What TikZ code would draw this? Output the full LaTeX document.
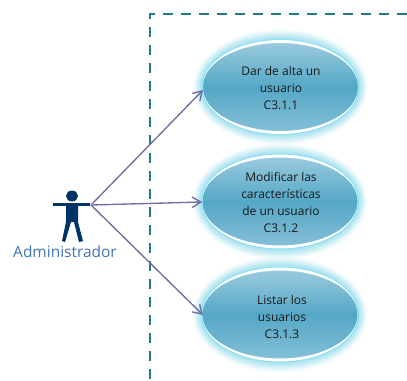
\documentclass[tikz,border=0pt]{standalone}
\usepackage{fontspec}
\setmainfont{Open Sans}
\usetikzlibrary{shapes.geometric,arrows.meta}
\definecolor{dashc}{RGB}{31,122,140}
\definecolor{linkc}{RGB}{112,108,160}
\definecolor{actorc}{RGB}{0,51,102}
\definecolor{actortxt}{RGB}{66,116,182}
\definecolor{glowc}{RGB}{135,214,232}
\definecolor{ringc}{RGB}{120,225,245}
\definecolor{ucTop}{RGB}{158,205,224}
\definecolor{ucMid}{RGB}{84,167,198}
\definecolor{ucBot}{RGB}{135,192,216}
\tikzset{
  x=0.75pt,y=-0.75pt,
  usecase/.style={ellipse,minimum width=117pt,minimum height=70.5pt,inner sep=0pt,
    top color=ucTop,bottom color=ucBot,middle color=ucMid,draw=ringc,line width=1pt},
  uctext/.style={font=\fontsize{9pt}{12.75pt}\selectfont,text=black!90,align=center,inner sep=0pt},
  link/.style={draw=linkc,line width=1pt},
  arrowlink/.style={link,-{Straight Barb[length=6.5pt,width=8pt,line width=1pt]}},
  bound/.style={draw=dashc,line width=2.2pt,dash pattern=on 7.5pt off 6pt},
}
\newcommand{\glowat}[2]{%
  \foreach \r/\o in {9/0.07,8/0.08,7/0.10,6/0.11,5/0.13,4/0.15,3/0.18,2/0.20,1/0.24}{
    \fill[glowc,opacity=\o] (#1,#2) ellipse [x radius={(78+\r)*0.75pt},y radius={(47+\r*1.2)*0.75pt}];
  }%
}
\newcommand{\crescent}[2]{%
  \fill[white,even odd rule] (#1,#2) ellipse [x radius=58.5pt,y radius=35.25pt]
     (#1,#2) ellipse [x radius=58.5pt,y radius=33pt];%
}
\begin{document}
\begin{tikzpicture}
\useasboundingbox (0,0) rectangle (407,380);
% boundary
\coordinate (bTR) at (407,14);
\coordinate (bTL) at (150,14);
\coordinate (bBL) at (150,380);
\draw[bound] (bTR) -- (bTL) -- (bBL);
% glows
\glowat{280.5}{87}\glowat{280}{201.5}\glowat{280}{314.5}
% use cases
\node[usecase] (uc1) at (280.5,87) {};
\node[usecase] (uc2) at (280,201.5) {};
\node[usecase] (uc3) at (280,314.5) {};
\crescent{280.5}{87}\crescent{280}{201.5}\crescent{280}{314.5}
\node[uctext] (t1) at (281,88) {Dar de alta un\\usuario\\C3.1.1};
\node[uctext] (t2) at (281,202.5) {Modificar las\\características\\de un usuario\\C3.1.2};
\node[uctext] (t3) at (282,317) {Listar los\\usuarios\\C3.1.3};
% actor
\fill[actorc] (72,196) ellipse [x radius=4.5pt,y radius=4.1pt];
\fill[actorc] (53,203) rectangle (90,205.5);
\fill[actorc] (66,204) -- (78,204) -- (78,222) -- (83,241) -- (79,242) -- (74,222) -- (71,222) -- (65,242) -- (62,241) -- (66,222) -- cycle;
\coordinate (hand) at (91,205);
\node[text=actortxt,font=\fontsize{11.6pt}{13pt}\selectfont,inner sep=0pt] (admin) at (65,252) {Administrador};
% connectors
\coordinate (tip1) at (203,90);
\coordinate (tip2) at (202,202);
\coordinate (tip3) at (203,315);
\draw[arrowlink] (hand) -- (tip1);
\draw[arrowlink] (hand) -- (tip2);
\draw[arrowlink] (hand) -- (tip3);
\end{tikzpicture}
\end{document}
